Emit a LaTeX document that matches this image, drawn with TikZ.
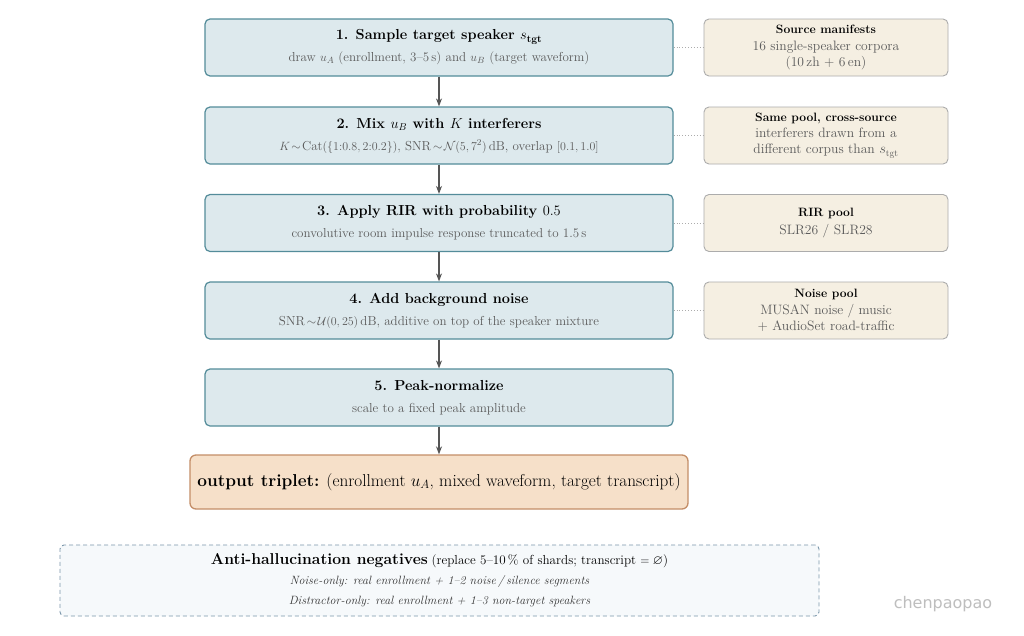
\documentclass[tikz,border=0pt]{standalone}
\usepackage{amsmath,amssymb}
\usepackage{fontspec}
\newfontfamily\wmfont{DejaVu Sans}
\usetikzlibrary{arrows.meta}
\definecolor{mainfill}{RGB}{221,233,237}
\definecolor{mainborder}{RGB}{84,140,154}
\definecolor{outfill}{RGB}{246,224,201}
\definecolor{outborder}{RGB}{196,142,104}
\definecolor{sidefill}{RGB}{245,239,226}
\definecolor{sideborder}{RGB}{172,172,172}
\definecolor{negfill}{RGB}{246,249,251}
\definecolor{negborder}{RGB}{122,150,170}
\definecolor{subgray}{RGB}{90,90,90}
\definecolor{arrowgray}{RGB}{85,85,85}
\definecolor{wmgray}{RGB}{190,190,190}
\newcommand{\ttl}{\fontsize{14.5}{16}\selectfont\bfseries}
\newcommand{\sbt}{\fontsize{13}{15}\selectfont\color{subgray}}
\newcommand{\sttl}{\fontsize{12.1}{14}\selectfont\bfseries}
\newcommand{\stx}{\color{subgray}}
\begin{document}
\begin{tikzpicture}[x=1pt,y=1pt,
  mainbox/.style={draw=mainborder, fill=mainfill, rounded corners=5pt, line width=1.2pt,
    minimum width=468pt, minimum height=57pt, align=center, inner sep=0pt,
    font=\fontsize{13}{15}\selectfont},
  sidebox/.style={draw=sideborder, fill=sidefill, rounded corners=5pt, line width=0.9pt,
    minimum width=244pt, minimum height=57pt, align=center, inner sep=0pt,
    font=\fontsize{13.6}{16.2}\selectfont},
  outbox/.style={draw=outborder, fill=outfill, rounded corners=6pt, line width=1.3pt,
    minimum width=498pt, minimum height=54pt, align=center, inner sep=0pt},
  negbox/.style={draw=negborder, fill=negfill, rounded corners=4pt, line width=0.9pt,
    dash pattern=on 4pt off 3pt, minimum width=759pt, minimum height=71pt, align=center, inner sep=0pt,
    font=\fontsize{12}{15}\selectfont},
  flow/.style={draw=arrowgray, line width=1.2pt, -{Stealth[length=8pt,width=6pt]}},
  link/.style={draw=sideborder, line width=0.9pt, dotted}
]
\useasboundingbox (0,0) rectangle (1024,-635);
\fill[white] (0,0) rectangle (1024,-635);

\node[mainbox] (b1) at (439,-47.5) {{\ttl 1. Sample target speaker $s_{\text{tgt}}$}\\[7pt]
  {\sbt draw $u_A$ (enrollment, 3--5\,s) and $u_B$ (target waveform)}};
\node[mainbox] (b2) at (439,-135.5) {{\ttl 2. Mix $u_B$ with $K$ interferers}\\[7pt]
  {\sbt $K\!\sim\!\mathrm{Cat}(\{1{:}0.8, 2{:}0.2\})$,\ SNR$\,\sim\!\mathcal{N}(5,7^2)$\,dB,\ overlap $[0.1, 1.0]$}};
\node[mainbox] (b3) at (439,-223) {{\ttl 3. Apply RIR with probability $0.5$}\\[7pt]
  {\sbt convolutive room impulse response truncated to 1.5\,s}};
\node[mainbox] (b4) at (439,-310.5) {{\ttl 4. Add background noise}\\[7pt]
  {\sbt SNR$\,\sim\!\mathcal{U}(0,25)$\,dB,\ additive on top of the speaker mixture}};
\node[mainbox] (b5) at (439,-397.5) {{\ttl 5. Peak-normalize}\\[7pt]
  {\sbt scale to a fixed peak amplitude}};
\node[outbox] (out) at (439,-482) {\fontsize{17.2}{20}\selectfont\textbf{output triplet:} (enrollment $u_A$, mixed waveform, target transcript)};

\node[sidebox] (s1) at (826,-47.5) {{\sttl Source manifests}\\
  {\stx 16 single-speaker corpora}\\{\stx (10\,zh + 6\,en)}};
\node[sidebox] (s2) at (826,-135.5) {{\sttl Same pool, cross-source}\\
  {\stx interferers drawn from a}\\{\stx different corpus than $s_{\mathrm{tgt}}$}};
\node[sidebox] (s3) at (826,-223) {{\sttl RIR pool}\\[1pt]
  {\stx SLR26 / SLR28}};
\node[sidebox] (s4) at (826,-310.5) {{\sttl Noise pool}\\
  {\stx MUSAN noise / music}\\{\stx + AudioSet road-traffic}};

\node[negbox] (neg) at (439.5,-580.5) {{\fontsize{15.7}{18}\selectfont\bfseries Anti-hallucination negatives}
  {\fontsize{13.1}{14}\selectfont (replace 5--10\,\% of shards; transcript $=\varnothing$)}\\[5pt]
  {\itshape\color{black!80} Noise-only: real enrollment + 1--2 noise\,/\,silence segments}\\[5pt]
  {\itshape\color{black!80} Distractor-only: real enrollment + 1--3 non-target speakers}};

\draw[flow] (b1) -- (b2);
\draw[flow] (b2) -- (b3);
\draw[flow] (b3) -- (b4);
\draw[flow] (b4) -- (b5);
\draw[flow] (b5) -- (out);

\draw[link] (b1.east) -- (s1.west);
\draw[link] (b2.east) -- (s2.west);
\draw[link] (b3.east) -- (s3.west);
\draw[link] (b4.east) -- (s4.west);

\node[text=wmgray, inner sep=0pt] (wm) at (943,-604) {\wmfont\fontsize{16}{18}\selectfont chenpaopao};
\end{tikzpicture}
\end{document}
